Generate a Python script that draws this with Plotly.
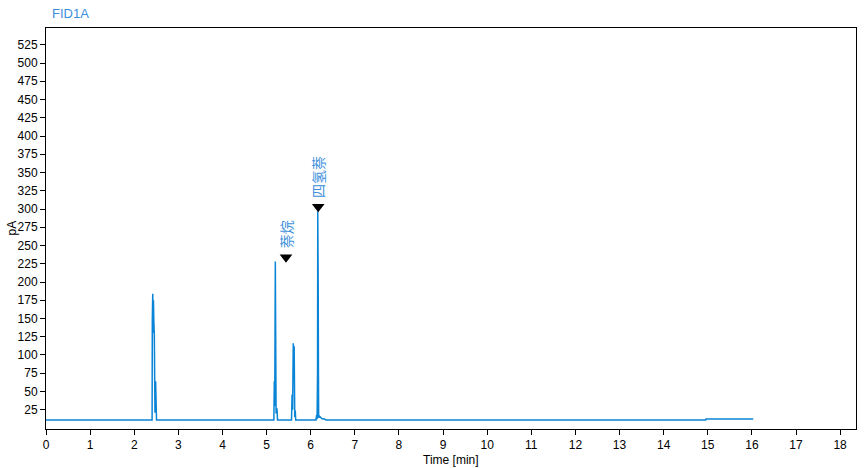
import plotly.graph_objects as go

# Chromatogram trace (time in min, signal in pA)
time_min = [0.0, 2.405, 2.410, 2.420, 2.428, 2.435, 2.445, 2.455, 2.462, 2.470, 2.485, 2.495, 2.505,
            5.165, 5.175, 5.185, 5.198, 5.215, 5.235, 5.248,
            5.565, 5.578, 5.590, 5.605, 5.615, 5.625, 5.638, 5.650, 5.660,
            6.120, 6.135, 6.145, 6.155, 6.160, 6.165, 6.170, 6.175, 6.180, 6.200, 6.250, 6.320, 6.350,
            14.955, 14.960, 16.030]
signal_pA = [11.0, 11.0, 148.0, 184.0, 130.0, 175.0, 144.0, 128.0, 48.0, 21.0, 64.0, 40.0, 11.0,
             11.0, 64.0, 30.0, 228.0, 20.0, 27.0, 11.0,
             11.0, 46.0, 25.0, 116.0, 100.0, 112.0, 15.0, 24.0, 11.0,
             11.0, 18.0, 12.0, 75.0, 297.0, 250.0, 190.0, 80.0, 14.0, 16.0, 13.0, 12.0, 11.0,
             11.0, 12.4, 12.4]

# Peak labels
label_times = [5.44, 6.17]
label_values = [234.0, 303.0]
label_names = ["萘烷", "四氢萘"]

x_ticks = list(range(0, 19))
y_ticks = list(range(25, 526, 25))

line_color = "#0A84D6"
text_blue = "#3A8EDB"
font_family = "Liberation Sans"

fig = go.Figure()
fig.add_trace(go.Scatter(x=time_min, y=signal_pA, mode="lines",
                         line=dict(color=line_color, width=1.5), hoverinfo="skip"))
fig.add_trace(go.Scatter(x=label_times, y=label_values, mode="markers",
                         marker=dict(symbol="triangle-down", size=11, color="black"),
                         hoverinfo="skip"))

for t, v, name in zip(label_times, label_values, label_names):
    fig.add_annotation(x=t, y=v, text=name, showarrow=False, textangle=-90,
                       xanchor="center", yanchor="bottom", yshift=7,
                       font=dict(family="Noto Sans CJK SC", size=14, color=text_blue))

fig.add_annotation(text="FID1A", xref="paper", yref="paper", x=0, y=1, xshift=4, yshift=5,
                   xanchor="left", yanchor="bottom", showarrow=False,
                   font=dict(family=font_family, size=13, color=text_blue))
fig.add_annotation(text="Time [min]", xref="paper", yref="paper", x=0.5, y=0, yshift=-22,
                   xanchor="center", yanchor="top", showarrow=False,
                   font=dict(family=font_family, size=12, color="black"))
fig.add_annotation(text="pA", xref="paper", yref="paper", x=0, y=0.5, xshift=-35,
                   xanchor="center", yanchor="middle", showarrow=False, textangle=-90,
                   font=dict(family=font_family, size=12, color="black"))

axis_common = dict(showgrid=False, zeroline=False, showline=True, linecolor="black",
                   linewidth=1, mirror=True, ticks="outside", ticklen=5, tickcolor="black",
                   automargin=False,
                   tickfont=dict(family=font_family, size=12, color="black"))

fig.update_xaxes(range=[0, 18.36], tickvals=x_ticks, ticktext=[str(v) for v in x_ticks],
                 **axis_common)
fig.update_yaxes(range=[-1.4, 548], tickvals=y_ticks, ticktext=[str(v) for v in y_ticks],
                 **axis_common)

fig.update_layout(width=865, height=468, showlegend=False,
                  margin=dict(l=46, r=9, t=28, b=39),
                  paper_bgcolor="white", plot_bgcolor="white")

fig.write_html("out.html", config={"displayModeBar": False},
               post_script="document.body.style.margin='0';document.body.style.padding='0';")
